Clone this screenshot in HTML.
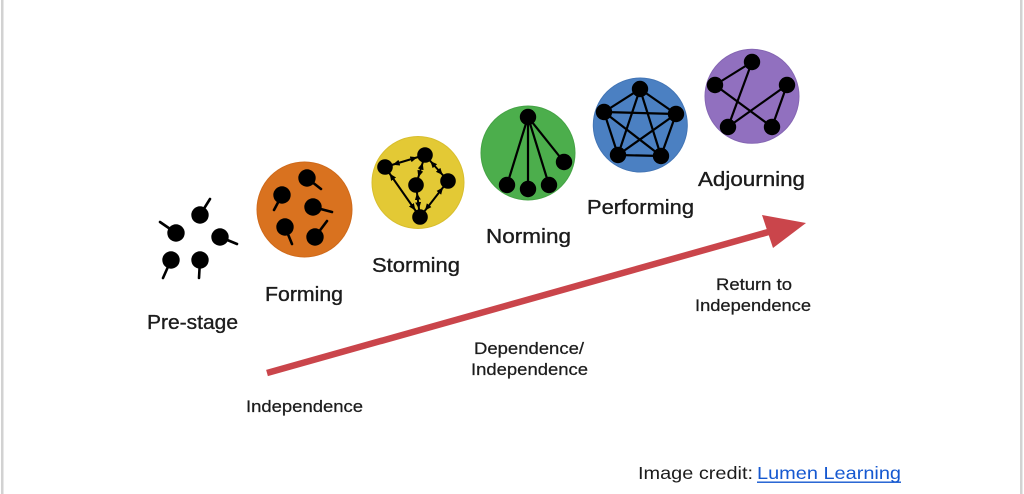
<!DOCTYPE html>
<html><head><meta charset="utf-8"><style>
html,body{margin:0;padding:0;background:#fff;}
svg{display:block;}
text{font-family:"Liberation Sans",Arial,sans-serif;fill:#1c1c1c;}
.lb{stroke:#1c1c1c;stroke-width:0.35;}
</style></head><body>
<svg width="1024" height="494" viewBox="0 0 1024 494" xmlns="http://www.w3.org/2000/svg">
<defs>
<marker id="ah" viewBox="0 0 7 6" markerWidth="7" markerHeight="6" markerUnits="userSpaceOnUse" refX="15" refY="3" orient="auto-start-reverse">
<path d="M0,0 L7,3 L0,6 z" fill="#000"/>
</marker>
</defs>
<rect x="0" y="0" width="1024" height="494" fill="#fff"/>
<rect x="1" y="0" width="2.5" height="494" fill="#d2d2d2"/>
<rect x="1020" y="0" width="2.5" height="494" fill="#d2d2d2"/>

<!-- Pre-stage dots -->
<g stroke="#000" stroke-width="2.6" stroke-linecap="round" fill="#000">
<line x1="200" y1="215" x2="210" y2="199"/>
<line x1="176" y1="233" x2="160" y2="222"/>
<line x1="220" y1="237" x2="237" y2="244"/>
<line x1="171" y1="260" x2="163" y2="278"/>
<line x1="200" y1="260" x2="199" y2="278"/>
</g>
<g fill="#000">
<circle cx="200" cy="215" r="8.7"/>
<circle cx="176" cy="233" r="8.7"/>
<circle cx="220" cy="237" r="8.7"/>
<circle cx="171" cy="260" r="8.7"/>
<circle cx="200" cy="260" r="8.7"/>
</g>

<!-- Forming -->
<circle cx="304.5" cy="209.5" r="47.5" fill="#d9721f" stroke="#cf6a1b" stroke-width="1"/>
<g stroke="#000" stroke-width="2.6" stroke-linecap="round">
<line x1="307" y1="178" x2="321" y2="189"/>
<line x1="282" y1="195" x2="274" y2="210"/>
<line x1="313" y1="207" x2="332" y2="212"/>
<line x1="285" y1="227" x2="292" y2="244"/>
<line x1="315" y1="237" x2="327" y2="221"/>
</g>
<g fill="#000">
<circle cx="307" cy="178" r="8.7"/>
<circle cx="282" cy="195" r="8.7"/>
<circle cx="313" cy="207" r="8.7"/>
<circle cx="285" cy="227" r="8.7"/>
<circle cx="315" cy="237" r="8.7"/>
</g>

<!-- Storming -->
<circle cx="418" cy="182.5" r="46" fill="#e3c935" stroke="#d8be2e" stroke-width="1"/>
<g stroke="#000" stroke-width="2" marker-start="url(#ah)" marker-end="url(#ah)">
<line x1="385" y1="167" x2="425" y2="155"/>
<line x1="385" y1="167" x2="420" y2="217"/>
<line x1="425" y1="155" x2="416" y2="185"/>
<line x1="425" y1="155" x2="448" y2="181"/>
<line x1="416" y1="185" x2="420" y2="217"/>
<line x1="448" y1="181" x2="420" y2="217"/>
</g>
<g fill="#000">
<circle cx="385" cy="167" r="7.8"/>
<circle cx="425" cy="155" r="7.8"/>
<circle cx="416" cy="185" r="7.8"/>
<circle cx="448" cy="181" r="7.8"/>
<circle cx="420" cy="217" r="7.8"/>
</g>

<!-- Norming -->
<circle cx="528" cy="153" r="47" fill="#4cae4c" stroke="#45a345" stroke-width="1"/>
<g stroke="#000" stroke-width="2.2">
<line x1="528" y1="117" x2="507" y2="185"/>
<line x1="528" y1="117" x2="528" y2="189"/>
<line x1="528" y1="117" x2="549" y2="185"/>
<line x1="528" y1="117" x2="564" y2="162"/>
</g>
<g fill="#000">
<circle cx="528" cy="117" r="8.2"/>
<circle cx="507" cy="185" r="8.2"/>
<circle cx="528" cy="189" r="8.2"/>
<circle cx="549" cy="185" r="8.2"/>
<circle cx="564" cy="162" r="8.2"/>
</g>

<!-- Performing -->
<circle cx="640.3" cy="125" r="47" fill="#4b80c2" stroke="#4375b5" stroke-width="1"/>
<g stroke="#000" stroke-width="2.2">
<line x1="640" y1="89" x2="604" y2="112"/>
<line x1="640" y1="89" x2="676" y2="114"/>
<line x1="640" y1="89" x2="618" y2="155"/>
<line x1="640" y1="89" x2="661" y2="156"/>
<line x1="604" y1="112" x2="676" y2="114"/>
<line x1="604" y1="112" x2="618" y2="155"/>
<line x1="604" y1="112" x2="661" y2="156"/>
<line x1="676" y1="114" x2="618" y2="155"/>
<line x1="676" y1="114" x2="661" y2="156"/>
<line x1="618" y1="155" x2="661" y2="156"/>
</g>
<g fill="#000">
<circle cx="640" cy="89" r="8.2"/>
<circle cx="604" cy="112" r="8.2"/>
<circle cx="676" cy="114" r="8.2"/>
<circle cx="618" cy="155" r="8.2"/>
<circle cx="661" cy="156" r="8.2"/>
</g>

<!-- Adjourning -->
<circle cx="752" cy="96.3" r="47" fill="#9170bf" stroke="#8566b3" stroke-width="1"/>
<g stroke="#000" stroke-width="2.2">
<line x1="752" y1="62" x2="715" y2="85"/>
<line x1="752" y1="62" x2="728" y2="127"/>
<line x1="715" y1="85" x2="772" y2="127"/>
<line x1="787" y1="85" x2="728" y2="127"/>
<line x1="787" y1="85" x2="772" y2="127"/>
</g>
<g fill="#000">
<circle cx="752" cy="62" r="8.2"/>
<circle cx="715" cy="85" r="8.2"/>
<circle cx="787" cy="85" r="8.2"/>
<circle cx="728" cy="127" r="8.2"/>
<circle cx="772" cy="127" r="8.2"/>
</g>

<!-- Arrow -->
<line x1="267" y1="373" x2="772" y2="231" stroke="#ca454b" stroke-width="6.5"/>
<polygon points="806,223 762,215 773,248" fill="#ca454b"/>

<!-- Stage labels -->
<g font-size="20" class="lb">
<text x="147" y="329" textLength="91" lengthAdjust="spacingAndGlyphs">Pre-stage</text>
<text x="265" y="301" textLength="78" lengthAdjust="spacingAndGlyphs">Forming</text>
<text x="372" y="272" textLength="88" lengthAdjust="spacingAndGlyphs">Storming</text>
<text x="486" y="243" textLength="85" lengthAdjust="spacingAndGlyphs">Norming</text>
<text x="587" y="214" textLength="107" lengthAdjust="spacingAndGlyphs">Performing</text>
<text x="698" y="186" textLength="107" lengthAdjust="spacingAndGlyphs">Adjourning</text>
</g>
<g font-size="16.5" class="lb" style="stroke-width:0.25">
<text x="716" y="290" textLength="76" lengthAdjust="spacingAndGlyphs">Return to</text>
<text x="695" y="311" textLength="116" lengthAdjust="spacingAndGlyphs">Independence</text>
<text x="474" y="354" textLength="110" lengthAdjust="spacingAndGlyphs">Dependence/</text>
<text x="471" y="375" textLength="117" lengthAdjust="spacingAndGlyphs">Independence</text>
<text x="246" y="412" textLength="117" lengthAdjust="spacingAndGlyphs">Independence</text>
</g>

<!-- Credit -->
<text x="638" y="479" font-size="17.5" fill="#111" textLength="115" lengthAdjust="spacingAndGlyphs">Image credit:</text>
<text x="757" y="479" font-size="17.5" style="fill:#1558d0" textLength="144" lengthAdjust="spacingAndGlyphs">Lumen Learning</text>
<rect x="757" y="481.5" width="144" height="1.4" fill="#1558d0"/>
</svg>
</body></html>
